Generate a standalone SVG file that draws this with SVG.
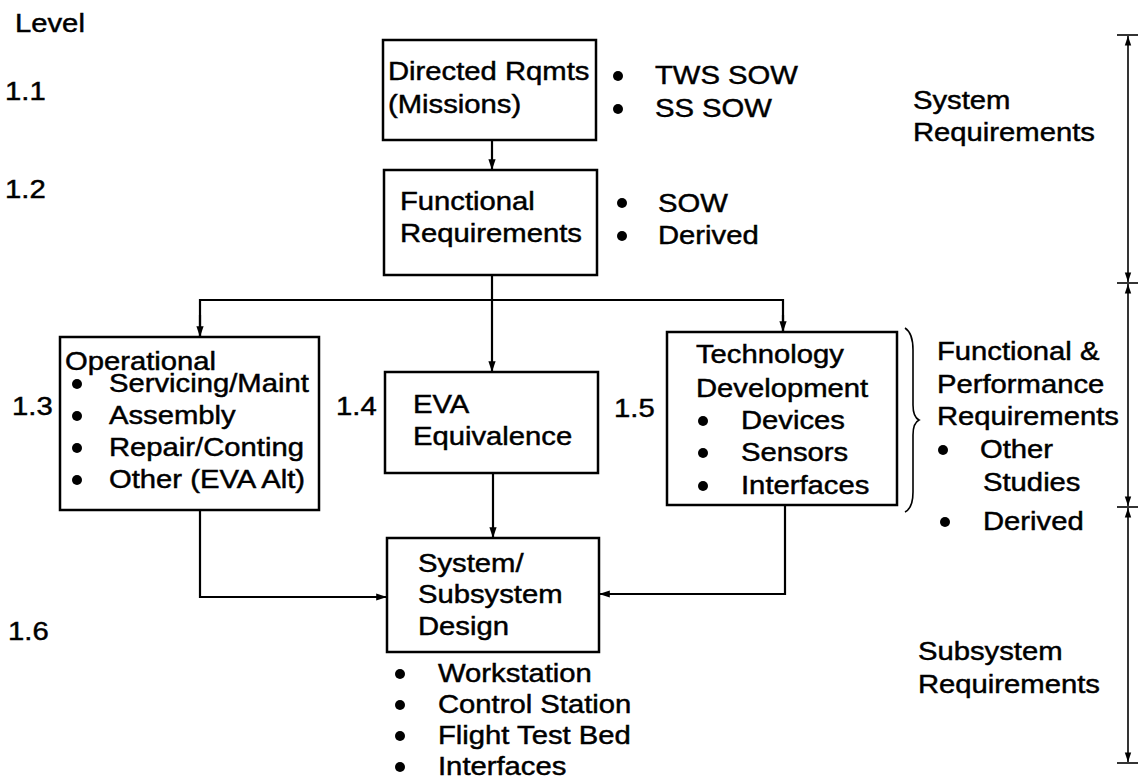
<svg xmlns="http://www.w3.org/2000/svg" width="1139" height="782" viewBox="0 0 1139 782">
<defs>
<style>
text{font-family:"Liberation Sans",Arial,Helvetica,sans-serif;font-size:25px;fill:#000;stroke:#000;stroke-width:0.45}
.box{fill:#fff;stroke:#000;stroke-width:2.5}
.ln{fill:none;stroke:#000;stroke-width:2.2}
.thin{fill:none;stroke:#000;stroke-width:1.6}
.dot{fill:#000}
</style>
<marker id="ah" viewBox="0 0 12 10" refX="12" refY="5" markerWidth="12" markerHeight="9" orient="auto" markerUnits="userSpaceOnUse">
<path d="M0,1 L12,5 L0,9 z" fill="#000"/>
</marker>
<marker id="ahs" viewBox="0 0 12 10" refX="12" refY="5" markerWidth="11" markerHeight="8" orient="auto" markerUnits="userSpaceOnUse">
<path d="M0,1 L12,5 L0,9 z" fill="#000"/>
</marker>
</defs>
<rect width="1139" height="782" fill="#fff"/>

<g id="levels">
<text transform="matrix(1.17 0 0 1 15 32)">Level</text>
<text transform="matrix(1.17 0 0 1 5 100)">1.1</text>
<text transform="matrix(1.17 0 0 1 5 198)">1.2</text>
<text transform="matrix(1.17 0 0 1 12 415)">1.3</text>
<text transform="matrix(1.17 0 0 1 336 415)">1.4</text>
<text transform="matrix(1.17 0 0 1 614 417)">1.5</text>
<text transform="matrix(1.17 0 0 1 8 640)">1.6</text>
</g>

<g id="connectors">
<line class="ln" x1="492" y1="140" x2="492" y2="170" marker-end="url(#ah)"/>
<line class="ln" x1="492" y1="275" x2="492" y2="372" marker-end="url(#ah)"/>
<polyline class="ln" points="200,337 200,300 783,300 783,332"/>
<line class="ln" x1="200" y1="315" x2="200" y2="337" marker-end="url(#ah)"/>
<line class="ln" x1="783" y1="315" x2="783" y2="332" marker-end="url(#ah)"/>
<line class="ln" x1="493" y1="473" x2="493" y2="538" marker-end="url(#ah)"/>
<polyline class="ln" points="200,510 200,597 387,597" marker-end="url(#ah)"/>
<polyline class="ln" points="785,505 785,594 599,594" marker-end="url(#ah)"/>
</g>

<g id="n11">
<rect class="box" x="383" y="40" width="213" height="100"/>
<text transform="matrix(1.17 0 0 1 388 80)">Directed Rqmts</text>
<text transform="matrix(1.17 0 0 1 388 113)">(Missions)</text>
</g>
<g id="n11-notes">
<circle class="dot" cx="618" cy="76" r="5"/>
<text transform="matrix(1.17 0 0 1 655 84)">TWS SOW</text>
<circle class="dot" cx="618" cy="109" r="5"/>
<text transform="matrix(1.17 0 0 1 655 117)">SS SOW</text>
</g>

<g id="n12">
<rect class="box" x="384" y="170" width="213" height="105"/>
<text transform="matrix(1.17 0 0 1 400 210)">Functional</text>
<text transform="matrix(1.17 0 0 1 400 242)">Requirements</text>
</g>
<g id="n12-notes">
<circle class="dot" cx="622" cy="203" r="5"/>
<text transform="matrix(1.17 0 0 1 658 212)">SOW</text>
<circle class="dot" cx="622" cy="236" r="5"/>
<text transform="matrix(1.17 0 0 1 658 244)">Derived</text>
</g>

<g id="n13">
<rect class="box" x="60" y="337" width="259" height="173"/>
<text transform="matrix(1.17 0 0 1 65 370)">Operational</text>
<circle class="dot" cx="77" cy="384" r="5"/><text transform="matrix(1.17 0 0 1 109 392)">Servicing/Maint</text>
<circle class="dot" cx="77" cy="416" r="5"/><text transform="matrix(1.17 0 0 1 109 424)">Assembly</text>
<circle class="dot" cx="77" cy="448" r="5"/><text transform="matrix(1.17 0 0 1 109 456)">Repair/Conting</text>
<circle class="dot" cx="77" cy="480" r="5"/><text transform="matrix(1.17 0 0 1 109 488)">Other (EVA Alt)</text>
</g>

<g id="n14">
<rect class="box" x="385" y="372" width="213" height="101"/>
<text transform="matrix(1.17 0 0 1 413 413)">EVA</text>
<text transform="matrix(1.17 0 0 1 413 445)">Equivalence</text>
</g>

<g id="n15">
<rect class="box" x="667" y="332" width="230" height="173"/>
<text transform="matrix(1.17 0 0 1 696 363)">Technology</text>
<text transform="matrix(1.17 0 0 1 696 397)">Development</text>
<circle class="dot" cx="703" cy="421" r="5"/><text transform="matrix(1.17 0 0 1 741 429)">Devices</text>
<circle class="dot" cx="703" cy="453" r="5"/><text transform="matrix(1.17 0 0 1 741 461)">Sensors</text>
<circle class="dot" cx="703" cy="486" r="5"/><text transform="matrix(1.17 0 0 1 741 494)">Interfaces</text>
</g>

<g id="n16">
<rect class="box" x="387" y="538" width="212" height="114"/>
<text transform="matrix(1.17 0 0 1 418 572)">System/</text>
<text transform="matrix(1.17 0 0 1 418 603)">Subsystem</text>
<text transform="matrix(1.17 0 0 1 418 635)">Design</text>
</g>
<g id="n16-notes">
<circle class="dot" cx="400" cy="674" r="5"/><text transform="matrix(1.17 0 0 1 438 682)">Workstation</text>
<circle class="dot" cx="400" cy="705" r="5"/><text transform="matrix(1.17 0 0 1 438 713)">Control Station</text>
<circle class="dot" cx="400" cy="736" r="5"/><text transform="matrix(1.17 0 0 1 438 744)">Flight Test Bed</text>
<circle class="dot" cx="400" cy="767" r="5"/><text transform="matrix(1.17 0 0 1 438 775)">Interfaces</text>
</g>

<g id="brace">
<path class="thin" d="M905,328 Q913,333 913,350 L913,405 Q913,417 919,420 Q913,423 913,435 L913,492 Q913,508 905,512"/>
</g>

<g id="scale">
<line class="thin" x1="1117" y1="35" x2="1138" y2="35"/>
<line class="thin" x1="1117" y1="283" x2="1138" y2="283"/>
<line class="thin" x1="1117" y1="507" x2="1138" y2="507"/>
<line class="thin" x1="1117" y1="763" x2="1138" y2="763"/>
<line class="thin" x1="1128" y1="60" x2="1128" y2="36" marker-end="url(#ahs)"/>
<line class="thin" x1="1128" y1="60" x2="1128" y2="282" marker-end="url(#ahs)"/>
<line class="thin" x1="1128" y1="300" x2="1128" y2="284" marker-end="url(#ahs)"/>
<line class="thin" x1="1128" y1="300" x2="1128" y2="506" marker-end="url(#ahs)"/>
<line class="thin" x1="1128" y1="525" x2="1128" y2="508" marker-end="url(#ahs)"/>
<line class="thin" x1="1128" y1="525" x2="1128" y2="762" marker-end="url(#ahs)"/>
</g>

<g id="labels">
<text transform="matrix(1.17 0 0 1 913 109)">System</text>
<text transform="matrix(1.17 0 0 1 913 141)">Requirements</text>
<text transform="matrix(1.17 0 0 1 937 360)">Functional &amp;</text>
<text transform="matrix(1.17 0 0 1 937 393)">Performance</text>
<text transform="matrix(1.17 0 0 1 937 425)">Requirements</text>
<circle class="dot" cx="943" cy="450" r="5"/><text transform="matrix(1.17 0 0 1 980 458)">Other</text>
<text transform="matrix(1.17 0 0 1 983 491)">Studies</text>
<circle class="dot" cx="945" cy="522" r="5"/><text transform="matrix(1.17 0 0 1 983 530)">Derived</text>
<text transform="matrix(1.17 0 0 1 918 660)">Subsystem</text>
<text transform="matrix(1.17 0 0 1 918 693)">Requirements</text>
</g>
</svg>
